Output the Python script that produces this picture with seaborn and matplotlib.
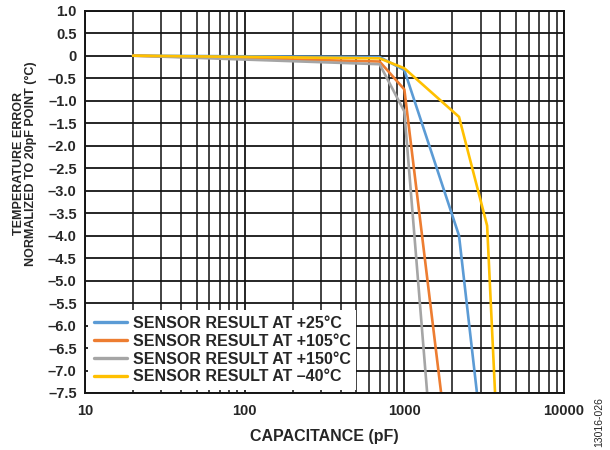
import matplotlib
matplotlib.use("Agg")
import matplotlib.pyplot as plt
import seaborn as sns
import pandas as pd
import numpy as np
from matplotlib.ticker import LogLocator, FixedLocator, NullFormatter

# ---- data ----
series_names = ["SENSOR RESULT AT +25°C", "SENSOR RESULT AT +105°C",
                "SENSOR RESULT AT +150°C", "SENSOR RESULT AT \u201340°C"]
cap_25 = [20, 700, 1000, 2200, 2850]
err_25 = [0.0, -0.03, -0.32, -4.0, -7.5]
cap_105 = [20, 700, 1000, 1700]
err_105 = [0.0, -0.13, -0.75, -7.5]
cap_150 = [20, 700, 1000, 1390]
err_150 = [0.0, -0.19, -1.24, -7.5]
cap_m40 = [20, 700, 1000, 2200, 3300, 3700]
err_m40 = [0.0, -0.06, -0.28, -1.36, -3.78, -7.5]
colors = ["#5B9BD5", "#ED7D31", "#A5A5A5", "#FFC000"]
y_ticks = [1.0, 0.5, 0, -0.5, -1.0, -1.5, -2.0, -2.5, -3.0, -3.5, -4.0,
           -4.5, -5.0, -5.5, -6.0, -6.5, -7.0, -7.5]
y_tick_labels = ["1.0", "0.5", "0", "\u20130.5", "\u20131.0", "\u20131.5", "\u20132.0",
                 "\u20132.5", "\u20133.0", "\u20133.5", "\u20134.0", "\u20134.5",
                 "\u20135.0", "\u20135.5", "\u20136.0", "\u20136.5", "\u20137.0", "\u20137.5"]
x_ticks = [10, 100, 1000, 10000]
x_tick_labels = ["10", "100", "1000", "10000"]

frames = []
for name, c, e in zip(series_names, [cap_25, cap_105, cap_150, cap_m40],
                      [err_25, err_105, err_150, err_m40]):
    frames.append(pd.DataFrame({"cap": c, "err": e, "series": name}))
df = pd.concat(frames, ignore_index=True)

sns.set_style("white")
plt.rcParams["font.family"] = ["Liberation Sans", "DejaVu Sans"]

fig = plt.figure(figsize=(6.1, 4.5), dpi=100)
ax = fig.add_axes([85 / 610, 1 - 393 / 450, (564 - 85) / 610, (393 - 10.7) / 450])

ax.set_xscale("log")
ax.set_xlim(10, 10000)
ax.set_ylim(-7.5, 1.0)

# grid
ax.xaxis.set_major_locator(FixedLocator(x_ticks))
ax.xaxis.set_minor_locator(LogLocator(base=10, subs=np.arange(2, 10)))
ax.xaxis.set_minor_formatter(NullFormatter())
ax.set_yticks(y_ticks)
ax.grid(True, which="major", axis="both", color="#151515", linewidth=1.3)
ax.grid(True, which="minor", axis="x", color="#222222", linewidth=1.2)
ax.set_axisbelow(True)

for name, col in zip(series_names, colors):
    sub = df[df["series"] == name]
    sns.lineplot(data=sub, x="cap", y="err", sort=False,
                 color=col, linewidth=1.9, ax=ax, label=name, estimator=None)

ax.set_xticks(x_ticks)
ax.set_xticklabels(x_tick_labels, fontsize=10.5, fontweight="bold")
ax.set_yticklabels(y_tick_labels, fontsize=10.5, fontweight="bold")
ax.tick_params(axis="both", which="both", length=0)
ax.tick_params(axis="y", pad=6)
ax.tick_params(axis="x", pad=8)

for s in ax.spines.values():
    s.set_color("#151515")
    s.set_linewidth(1.4)

ax.set_xlabel("CAPACITANCE (pF)", fontsize=11.5, fontweight="bold", labelpad=8)
ax.set_ylabel("TEMPERATURE ERROR\nNORMALIZED TO 20pF POINT (°C)", fontsize=9.0,
              fontweight="bold", linespacing=1.0,
              family=["Liberation Sans Narrow", "Liberation Sans", "DejaVu Sans"])
ax.yaxis.set_label_coords(-0.10, 0.60)

leg = ax.legend(loc="lower left", bbox_to_anchor=(0.0, 0.0), borderaxespad=0.2,
                frameon=True, fancybox=False, framealpha=1, edgecolor="none",
                facecolor="white", prop={"weight": "bold", "size": 11.5},
                handlelength=2.1, handletextpad=0.35, labelspacing=0.17,
                borderpad=0.35)
for h in leg.get_lines():
    h.set_linewidth(2.4)

fig.text(0.982, 0.062, "13016-026", rotation=90, fontsize=7.5, ha="center", va="center")

fig.savefig("out.png", dpi=100)
